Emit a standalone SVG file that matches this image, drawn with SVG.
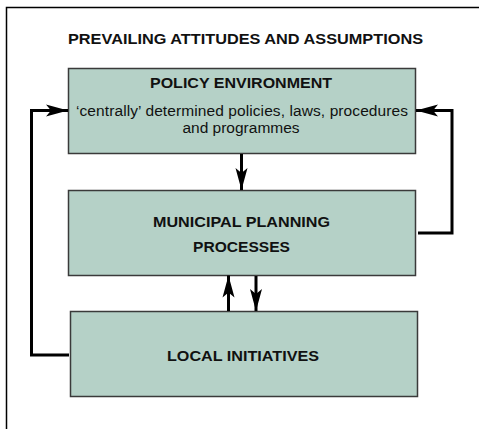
<svg xmlns="http://www.w3.org/2000/svg" width="479" height="429" viewBox="0 0 479 429">
  <style>
    .box { fill: #b5d1c7; stroke: #3a3a3a; stroke-width: 1.5; }
    .wire { fill: none; stroke: #000; stroke-width: 3; }
    .t { font-family: "Liberation Sans", Arial, sans-serif; fill: #111; text-anchor: middle; font-size: 15.5px; }
    .b { font-weight: bold; font-size: 15px; }
  </style>
  <defs>
    <marker id="head" markerUnits="userSpaceOnUse" markerWidth="24" markerHeight="14" refX="22" refY="6" orient="auto" viewBox="0 0 24 12">
      <path d="M0,0 L22,6 L0,12 L5,6 Z" fill="#000"/>
    </marker>
  </defs>
  <rect width="479" height="429" fill="#fff"/>
  <!-- frame -->
  <path d="M6.5,429 V7.5 H479" fill="none" stroke="#000" stroke-width="1.5"/>
  <text class="t b" x="245.5" y="43.5" textLength="355" lengthAdjust="spacingAndGlyphs">PREVAILING ATTITUDES AND ASSUMPTIONS</text>

  <g id="policy">
    <rect class="box" x="68.5" y="68.5" width="347" height="85"/>
    <text class="t b" x="241" y="88" textLength="182" lengthAdjust="spacingAndGlyphs">POLICY ENVIRONMENT</text>
    <text class="t" x="242" y="116" textLength="332">‘centrally’ determined policies, laws, procedures</text>
    <text class="t" x="241" y="133">and programmes</text>
  </g>
  <g id="municipal">
    <rect class="box" x="68.5" y="190.5" width="347" height="85"/>
    <text class="t b" x="241.5" y="227" textLength="177" lengthAdjust="spacingAndGlyphs">MUNICIPAL PLANNING</text>
    <text class="t b" x="241.5" y="252" textLength="97" lengthAdjust="spacingAndGlyphs">PROCESSES</text>
  </g>
  <g id="local">
    <rect class="box" x="70.5" y="311.5" width="347" height="85"/>
    <text class="t b" x="243" y="361" textLength="152" lengthAdjust="spacingAndGlyphs">LOCAL INITIATIVES</text>
  </g>

  <g id="connectors">
    <path class="wire" d="M241.5,154 V190" marker-end="url(#head)"/>
    <path class="wire" d="M228.5,311 V275.5" marker-end="url(#head)"/>
    <path class="wire" d="M256,276 V311" marker-end="url(#head)"/>
    <path class="wire" d="M69,355 H31.5 V110.5 H68" marker-end="url(#head)"/>
    <path class="wire" d="M418,233 H452 V110.5 H416" marker-end="url(#head)"/>
  </g>
</svg>
